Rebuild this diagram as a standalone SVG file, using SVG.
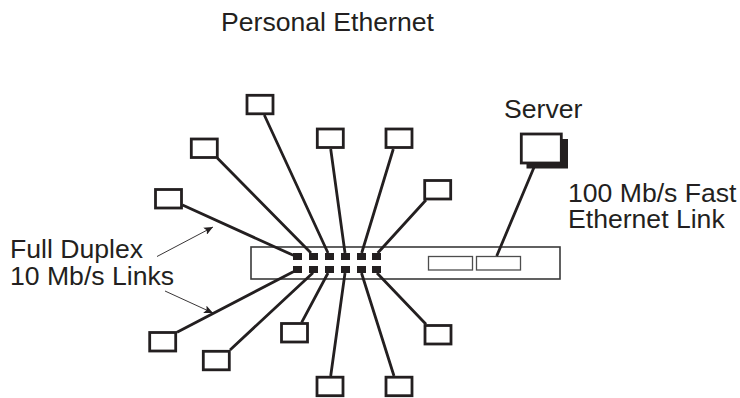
<svg xmlns="http://www.w3.org/2000/svg" width="740" height="398" viewBox="0 0 740 398">
<style>
text{font-family:"Liberation Sans",Arial,sans-serif;font-size:26.600px;fill:#231f20}
.n{fill:#fff;stroke:#231f20;stroke-width:2.800}
.l{fill:none;stroke:#231f20;stroke-width:2.800}
.t{fill:none;stroke:#231f20;stroke-width:.9;marker-end:url(#a)}
.p{fill:#231f20}
.s{fill:#fff;stroke:#4d4d4d;stroke-width:1.300}
</style>
<defs><marker id="a" markerUnits="userSpaceOnUse" markerWidth="10" markerHeight="8" refX="9" refY="4" orient="auto"><path d="M0 0L9 4L0 8L2 4Z" fill="#231f20"/></marker></defs>
<rect width="740" height="398" fill="#fff"/>
<text x="221" y="31">Personal Ethernet</text>
<g id="switch">
<rect x="251" y="247" width="309" height="32" fill="#fff" stroke="#3a3a3a" stroke-width="1.600"/>
<rect class="s" x="428.500" y="256.500" width="44" height="13.500"/>
<rect class="s" x="476.500" y="256.500" width="44" height="13.500"/>
<g class="p">
<rect x="293" y="253" width="9" height="7"/><rect x="309" y="253" width="9" height="7"/><rect x="325" y="253" width="9" height="7"/><rect x="341" y="253" width="9" height="7"/><rect x="357" y="253" width="9" height="7"/><rect x="372" y="253" width="9" height="7"/>
<rect x="293" y="266" width="9" height="7"/><rect x="309" y="266" width="9" height="7"/><rect x="325" y="266" width="9" height="7"/><rect x="341" y="266" width="9" height="7"/><rect x="357" y="266" width="9" height="7"/><rect x="372" y="266" width="9" height="7"/>
</g>
</g>
<g id="connectors">
<path class="l" d="M264.300 115L328 253M217.300 158L311 253M330.700 149L345 253M393.300 149L361.700 253M426 200L377.700 253M182.500 205L293.300 255.300M177 332.300L293.300 271.700M230 350L313 272.700M301.700 322.300L328 273M330.700 376L345 273M394 376L361.500 273M426 324.300L377 273M496.700 256L535 165"/>
<path class="t" d="M157 256.500L213 227"/>
<path class="t" d="M165 291L213 313"/>
</g>
<g id="node-1"><rect class="n" x="247" y="95.300" width="26" height="18.500"/></g>
<g id="node-2"><rect class="n" x="191.300" y="139" width="26" height="18.500"/></g>
<g id="node-3"><rect class="n" x="317.300" y="129" width="26" height="18.500"/></g>
<g id="node-4"><rect class="n" x="386" y="129" width="26" height="18.500"/></g>
<g id="node-5"><rect class="n" x="424.700" y="180.500" width="26" height="18.500"/></g>
<g id="node-6"><rect class="n" x="155.500" y="189.500" width="26" height="18.500"/></g>
<g id="node-7"><rect class="n" x="149.700" y="332.500" width="26" height="18.500"/></g>
<g id="node-8"><rect class="n" x="203.300" y="351.300" width="26" height="18.500"/></g>
<g id="node-9"><rect class="n" x="281.500" y="323.500" width="26" height="18.500"/></g>
<g id="node-10"><rect class="n" x="317" y="377.200" width="26" height="18.500"/></g>
<g id="node-11"><rect class="n" x="386" y="377.200" width="26" height="18.500"/></g>
<g id="node-12"><rect class="n" x="425" y="325.500" width="26" height="18.500"/></g>
<g id="server">
<rect class="p" x="526.500" y="139" width="41.500" height="29.500"/>
<rect class="n" x="521.300" y="134" width="40" height="29"/>
<text x="504" y="118">Server</text>
</g>
<text x="568" y="202">100 Mb/s Fast</text>
<text x="568" y="227.500">Ethernet Link</text>
<text x="10" y="257.500">Full Duplex</text>
<text x="10" y="284.500">10 Mb/s Links</text>
</svg>
